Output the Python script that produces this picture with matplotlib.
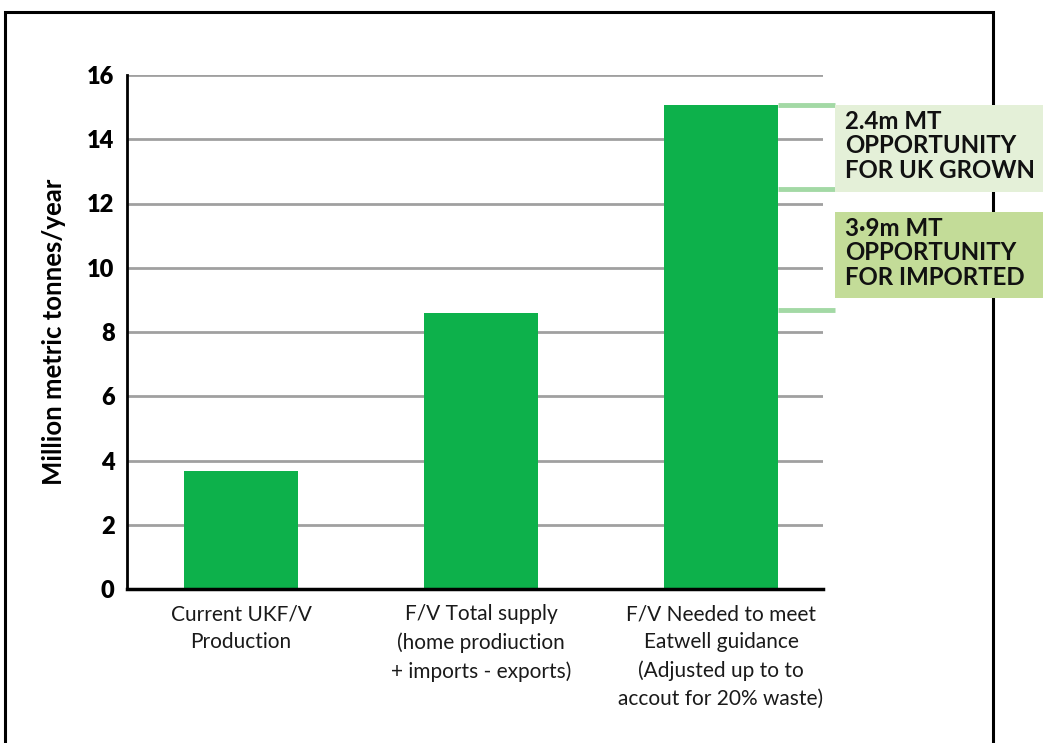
import matplotlib
matplotlib.use("Agg")
import matplotlib.pyplot as plt
from matplotlib.patches import Rectangle

categories = ["Current UKF/V\nProduction",
              "F/V Total supply\n(home prodiuction\n+ imports - exports)",
              "F/V Needed to meet\nEatwell guidance\n(Adjusted up to to\naccout for 20% waste)"]
values = [3.68, 8.58, 15.07]
opportunity_levels = [15.07, 12.44, 8.70]
box_texts = ["2.4m MT\nOPPORTUNITY\nFOR UK GROWN",
             "3·9m MT\nOPPORTUNITY\nFOR IMPORTED"]
yticks = [0, 2, 4, 6, 8, 10, 12, 14, 16]

W, H = 1043, 743
fig = plt.figure(figsize=(W / 100, H / 100), dpi=100)
fig.patch.set_facecolor("white")

def fx(px):
    return px / W

def fy(py):
    return 1 - py / H

# outer frame
fig.patches.append(Rectangle((fx(5), fy(760)), fx(993) - fx(5), fy(12) - fy(760),
                             transform=fig.transFigure, fill=False,
                             edgecolor="black", linewidth=2.2, zorder=1))

ax = fig.add_axes([fx(127), fy(589), fx(823) - fx(127), fy(75) - fy(589)])
ax.set_facecolor("none")
ax.set_zorder(2)

x = list(range(len(categories)))
bar_w = 0.475
ax.bar(x, values, width=bar_w, color="#0db14b", zorder=3)

ax.set_ylim(0, 16)
ax.set_xlim(-0.475, 2.425)
ax.set_yticks(yticks)
ax.set_yticklabels([str(t) for t in yticks], fontsize=17, fontweight="heavy",
                   family=["Lato", "DejaVu Sans"])
ax.set_xticks(x)
ax.set_xticklabels(categories, fontsize=15, family=["Lato", "DejaVu Sans"],
                   linespacing=1.5, va="top", color="#1a1a1a")
ax.tick_params(axis="both", length=0)
ax.tick_params(axis="y", pad=9)
ax.tick_params(axis="x", pad=11)

for t in yticks[1:]:
    ax.axhline(t, color="#a0a0a0", linewidth=2, zorder=1)

for s in ["top", "right"]:
    ax.spines[s].set_visible(False)
ax.spines["left"].set_linewidth(2)
ax.spines["bottom"].set_linewidth(2.5)
ax.spines["left"].set_zorder(4)
ax.spines["bottom"].set_zorder(4)

ax.set_ylabel("Million metric tonnes/year", fontsize=18.5, fontweight="bold",
              family=["Lato", "DejaVu Sans"], labelpad=15)

# opportunity boundary lines
x_right = 2 + bar_w / 2
ax.hlines(opportunity_levels, x_right, 2.475, colors="#a3d9a5", linewidth=3.5,
          clip_on=False, zorder=5)

# boxes
boxes = [(105, 192, "#e4f0d8"), (212, 298, "#c3dc98")]
for (top, bot, col), txt in zip(boxes, box_texts):
    fig.patches.append(Rectangle((fx(835), fy(bot)), fx(1043) - fx(835), fy(top) - fy(bot),
                                 transform=fig.transFigure, facecolor=col,
                                 edgecolor="none", zorder=6))
    fig.text(fx(845), fy(top + 5), txt, fontsize=17.3, fontweight="bold",
             family=["Lato", "DejaVu Sans"], va="top", ha="left",
             linespacing=1.07, color="#111111", zorder=7)

fig.savefig("out.png", dpi=100)
